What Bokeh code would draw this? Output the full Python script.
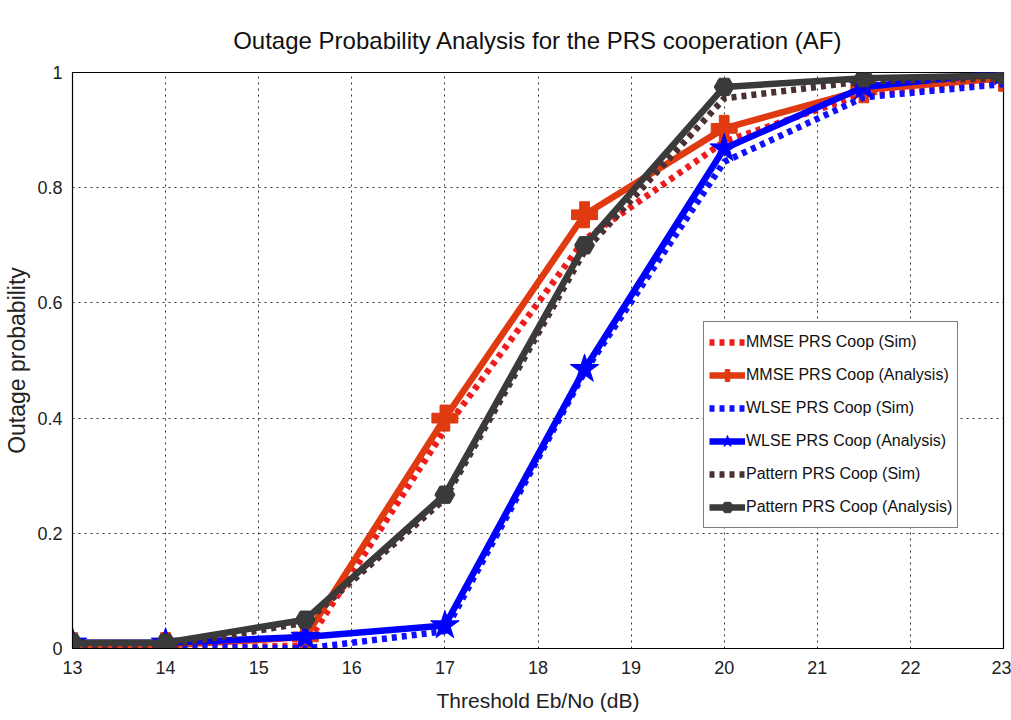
from bokeh.plotting import figure
from bokeh.models import Legend, LegendItem, FixedTicker, NumeralTickFormatter, Title
from bokeh.embed import file_html
from bokeh.resources import INLINE

snr = [13, 14, 15.5, 17, 18.5, 20, 21.5, 23]
mmse_sim = [0.0, 0.0, 0.005, 0.38, 0.71, 0.88, 0.963, 0.985]
mmse_ana = [0.005, 0.005, 0.02, 0.40, 0.753, 0.903, 0.97, 0.99]
wlse_sim = [0.004, 0.004, 0.0, 0.03, 0.48, 0.845, 0.957, 0.98]
wlse_ana = [0.01, 0.01, 0.02, 0.04, 0.485, 0.868, 0.975, 1.0]
pat_sim = [0.004, 0.004, 0.045, 0.26, 0.69, 0.955, 0.985, 0.99]
pat_ana = [0.01, 0.01, 0.05, 0.267, 0.70, 0.975, 0.99, 0.995]

x_ticks = [13, 14, 15, 16, 17, 18, 19, 20, 21, 22, 23]
y_ticks = [0, 0.2, 0.4, 0.6, 0.8, 1.0]

FONT = "Liberation Sans"

p = figure(width=1011, height=720, output_backend="svg", toolbar_location=None,
           x_range=(13, 23), y_range=(0, 1),
           min_border_left=72, min_border_right=8, min_border_top=72, min_border_bottom=72)
p.title = Title(text="Outage Probability Analysis for the PRS cooperation (AF)",
                align="center", text_font=FONT, text_font_size="24px",
                text_font_style="normal", text_color="#111111", standoff=38)
p.title_location = "above"

p.outline_line_color = "black"
p.outline_line_width = 1.2
p.background_fill_color = "white"
p.border_fill_color = "white"

for ax in (p.xaxis[0], p.yaxis[0]):
    ax.major_label_text_font = FONT
    ax.major_label_text_font_size = "18px"
    ax.major_label_text_color = "#222222"
    ax.axis_label_text_font = FONT
    ax.axis_label_text_font_style = "normal"
    ax.axis_label_text_color = "#222222"
    ax.axis_line_color = "black"
    ax.major_tick_line_color = None
    ax.minor_tick_line_color = None

p.xaxis.ticker = FixedTicker(ticks=x_ticks)
p.yaxis.ticker = FixedTicker(ticks=y_ticks)
p.yaxis.formatter = NumeralTickFormatter(format="0.[0]")
p.xaxis.axis_label = "Threshold Eb/No (dB)"
p.yaxis.axis_label = "Outage probability"
p.xaxis.axis_label_text_font_size = "21px"
p.yaxis.axis_label_text_font_size = "23px"
p.xaxis.major_label_standoff = 6
p.xaxis.axis_label_standoff = 12
p.yaxis.major_label_standoff = 4
p.yaxis.axis_label_standoff = 4

p.grid.grid_line_color = "#333333"
p.grid.grid_line_dash = "2 4"
p.grid.grid_line_width = 1

W = 6.5
r1 = p.line(snr, mmse_sim, color="#ee1c1c", line_width=W, line_dash="5 5")
r2 = p.line(snr, mmse_ana, color="#e03a10", line_width=W)
r2m = p.scatter(snr, mmse_ana, marker="plus", size=26, color="#e03a10")
r3 = p.line(snr, wlse_sim, color="#1010ff", line_width=W, line_dash="5 5")
r4 = p.line(snr, wlse_ana, color="#0000ff", line_width=W)
r4m = p.scatter(snr, wlse_ana, marker="star", size=30, color="#0000ff")
r5 = p.line(snr, pat_sim, color="#4a3030", line_width=W, line_dash="5 5")
r6 = p.line(snr, pat_ana, color="#3a3a3a", line_width=W)
r6m = p.scatter(snr, pat_ana, marker="hex", size=20, color="#3a3a3a")

legend = Legend(items=[
    LegendItem(label="MMSE PRS Coop (Sim)", renderers=[r1]),
    LegendItem(label="MMSE PRS Coop (Analysis)", renderers=[r2, r2m]),
    LegendItem(label="WLSE PRS Coop (Sim)", renderers=[r3]),
    LegendItem(label="WLSE PRS Coop (Analysis)", renderers=[r4, r4m]),
    LegendItem(label="Pattern PRS Coop (Sim)", renderers=[r5]),
    LegendItem(label="Pattern PRS Coop (Analysis)", renderers=[r6, r6m]),
], location=(631, 120))
legend.label_text_font = FONT
legend.label_text_font_size = "16px"
legend.label_text_color = "#111111"
legend.glyph_width = 36
legend.glyph_height = 30
legend.label_height = 30
legend.spacing = 3
legend.padding = 5
legend.margin = 0
legend.label_standoff = 1
legend.border_line_color = "black"
legend.border_line_width = 1
legend.background_fill_alpha = 1
p.add_layout(legend, "center")

open("out.html", "w").write(file_html(p, INLINE))
